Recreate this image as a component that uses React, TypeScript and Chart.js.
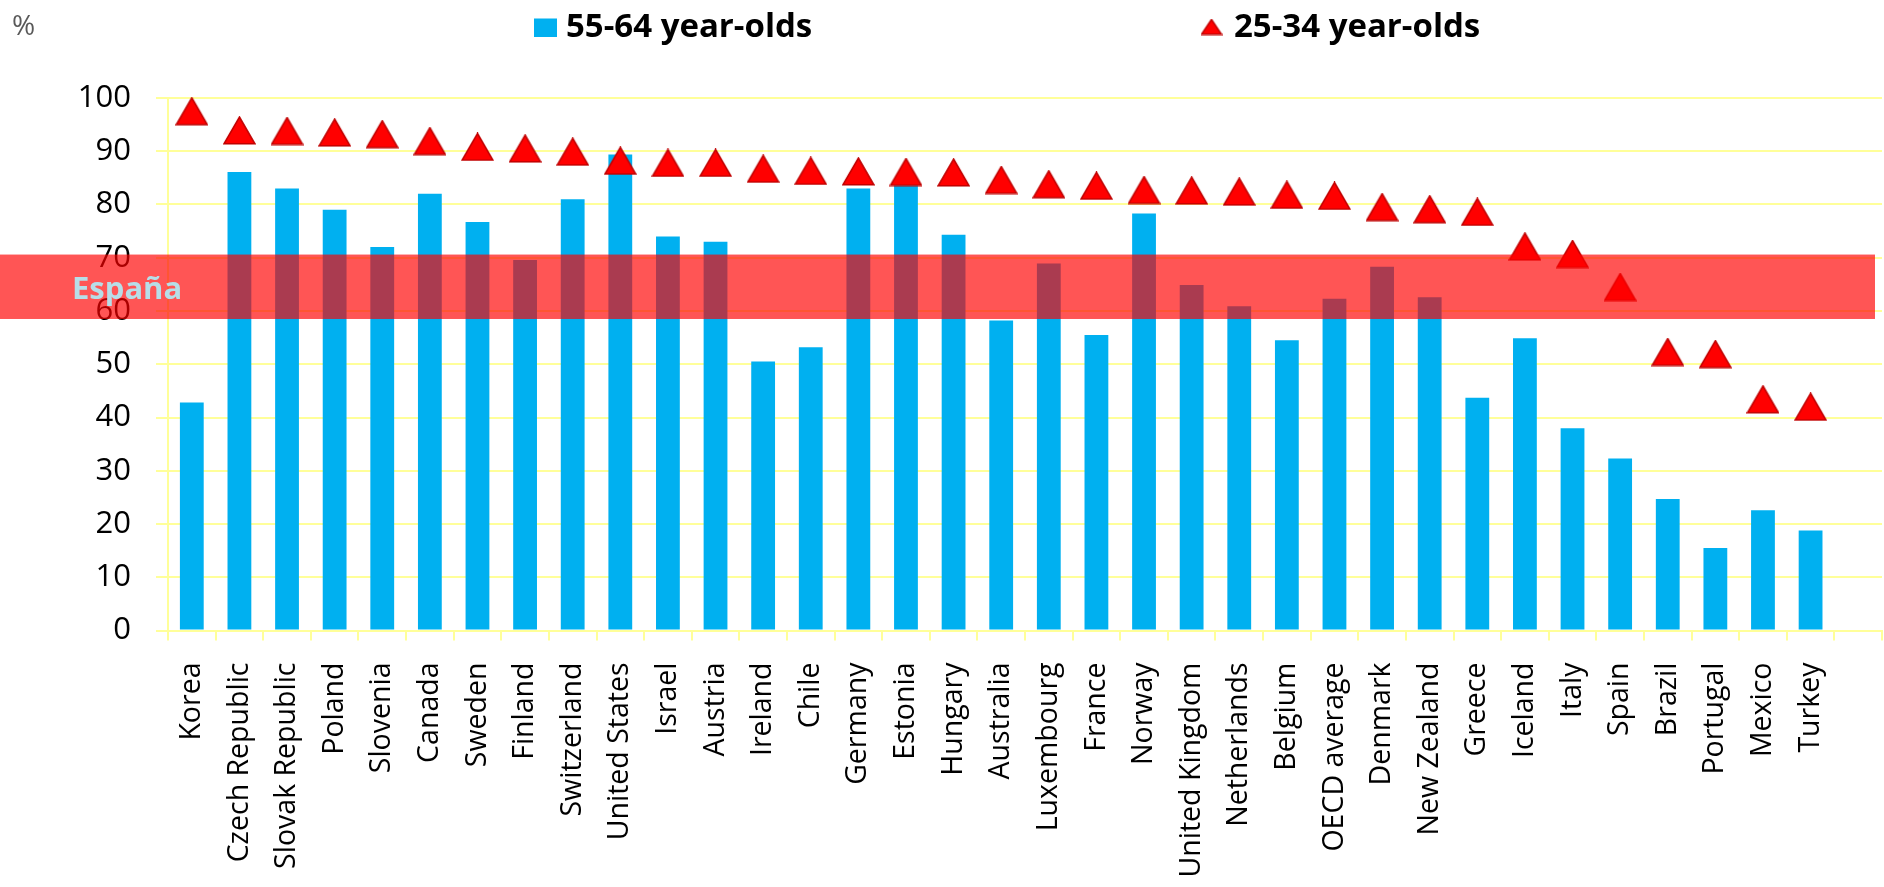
import React, { useEffect, useRef } from 'react';
import { Chart, registerables } from 'chart.js';

Chart.register(...registerables);

const countries = [
  'Korea', 'Czech Republic', 'Slovak Republic', 'Poland', 'Slovenia', 'Canada', 'Sweden', 'Finland',
  'Switzerland', 'United States', 'Israel', 'Austria', 'Ireland', 'Chile', 'Germany', 'Estonia',
  'Hungary', 'Australia', 'Luxembourg', 'France', 'Norway', 'United Kingdom', 'Netherlands', 'Belgium',
  'OECD average', 'Denmark', 'New Zealand', 'Greece', 'Iceland', 'Italy', 'Spain', 'Brazil',
  'Portugal', 'Mexico', 'Turkey',
];

// 55-64 year-olds (bars)
const olderAdults = [
  42.8, 86.1, 83.0, 79.0, 72.0, 82.0, 76.7, 69.6,
  81.0, 89.4, 74.0, 73.0, 50.5, 53.2, 83.0, 83.6,
  74.3, 58.2, 68.9, 55.5, 78.3, 64.9, 60.9, 54.5,
  62.3, 68.3, 62.6, 43.7, 54.9, 38.0, 32.3, 24.7,
  15.5, 22.6, 18.8,
];

// 25-34 year-olds (triangles)
const youngerAdults = [
  97.5, 93.9, 93.8, 93.5, 93.2, 91.9, 90.8, 90.5,
  89.9, 88.2, 87.8, 87.8, 86.7, 86.3, 86.2, 86.1,
  86.0, 84.6, 83.8, 83.5, 82.7, 82.6, 82.4, 81.8,
  81.6, 79.5, 79.1, 78.6, 72.1, 70.7, 64.5, 52.3,
  51.9, 43.4, 42.0,
];

const seriesLabels = ['55-64 year-olds', '25-34 year-olds'];
const yTickValues = [0, 10, 20, 30, 40, 50, 60, 70, 80, 90, 100];
const spainBand = [58.5, 70.6];
const spainLabel = 'España';
const unitLabel = '%';

const BLUE = '#00B0F0';
const RED = '#FF0000';
const RED_EDGE = '#C00000';
const GRID = '#FFFF99';
const FONT = '"Open Sans", "Noto Sans", sans-serif';

function makeTriangle(w: number, h: number): HTMLCanvasElement {
  const c = document.createElement('canvas');
  c.width = w;
  c.height = h;
  const t = c.getContext('2d')!;
  t.beginPath();
  t.moveTo(w / 2, 1);
  t.lineTo(w - 1, h - 1.2);
  t.lineTo(1, h - 1.2);
  t.closePath();
  t.fillStyle = RED;
  t.fill();
  t.strokeStyle = RED_EDGE;
  t.lineWidth = 1.5;
  t.stroke();
  return c;
}

export default function App() {
  const ref = useRef<HTMLCanvasElement>(null);

  useEffect(() => {
    const canvas = ref.current!;
    const tri = makeTriangle(33, 29);
    const legendTri = makeTriangle(22, 17);

    const overlay = {
      id: 'overlay',
      afterDraw(chart: any) {
        const { ctx } = chart;
        const y = chart.scales.y;
        const top = y.getPixelForValue(spainBand[1]);
        const bot = y.getPixelForValue(spainBand[0]);
        ctx.save();
        // Spain band
        ctx.fillStyle = 'rgba(255,0,0,0.667)';
        ctx.fillRect(0, top, chart.width - 9, bot - top);
        ctx.font = `bold 31px ${FONT}`;
        ctx.fillStyle = '#B7DEE8';
        ctx.textBaseline = 'alphabetic';
        ctx.textAlign = 'left';
        ctx.fillText(spainLabel, 72, (top + bot) / 2 + 12);
        // unit
        ctx.font = `28px ${FONT}`;
        ctx.fillStyle = '#595959';
        ctx.fillText(unitLabel, 12, 35);
        // legend
        const ds = chart.data.datasets;
        ctx.font = `bold 33px ${FONT}`;
        ctx.fillStyle = BLUE;
        ctx.fillRect(534, 18.5, 23, 18.5);
        ctx.fillStyle = '#000000';
        ctx.fillText(ds[1].label, 566, 37);
        ctx.drawImage(legendTri, 1200.5, 18.5);
        ctx.fillStyle = '#000000';
        ctx.fillText(ds[0].label, 1234, 37);
        ctx.restore();
      },
    };

    const chart = new Chart(canvas, {
      type: 'bar',
      data: {
        labels: [...countries, ''],
        datasets: [
          {
            type: 'line',
            label: seriesLabels[1],
            data: youngerAdults,
            showLine: false,
            pointStyle: tri as any,
            pointRadius: 16,
            pointHoverRadius: 16,
            clip: false as any,
            order: 0,
          } as any,
          {
            type: 'bar',
            label: seriesLabels[0],
            data: olderAdults,
            backgroundColor: BLUE,
            borderWidth: 0,
            barPercentage: 0.5,
            categoryPercentage: 1.0,
            order: 1,
          },
        ],
      },
      options: {
        responsive: false,
        animation: false,
        events: [],
        layout: { autoPadding: false, padding: { left: 0, right: 2, top: 98, bottom: 0 } },
        plugins: {
          legend: { display: false },
          tooltip: { enabled: false },
          title: { display: false },
        },
        scales: {
          x: {
            offset: true,
            grid: {
              display: true,
              drawOnChartArea: false,
              drawTicks: true,
              tickLength: 10,
              color: GRID,
              lineWidth: 2,
              offset: true,
            },
            border: { color: GRID, width: 2 },
            ticks: {
              autoSkip: false,
              maxRotation: 90,
              minRotation: 90,
              color: '#000000',
              font: { family: FONT, size: 28.5 },
              padding: 22,
            },
            afterFit: (s: any) => {
              s.height = 887 - 630.5;
              s.paddingLeft = 0;
              s.paddingRight = 0;
            },
          },
          y: {
            min: 0,
            max: 100,
            afterBuildTicks: (s: any) => {
              s.ticks = yTickValues.map((v) => ({ value: v }));
            },
            grid: { color: GRID, lineWidth: 2, tickLength: 12, drawTicks: true },
            border: { color: GRID, width: 2 },
            ticks: {
              color: '#000000',
              font: { family: FONT, size: 31 },
              padding: 25,
            },
            afterFit: (s: any) => {
              s.width = 168;
              s.paddingTop = 0;
              s.paddingBottom = 0;
            },
          },
        },
      },
      plugins: [overlay],
    });

    return () => chart.destroy();
  }, []);

  return (
    <div style={{ position: 'absolute', left: 0, top: 0, width: 1884, height: 887, background: '#ffffff' }}>
      <canvas ref={ref} width={1884} height={887} style={{ display: 'block', width: 1884, height: 887 }} />
    </div>
  );
}
